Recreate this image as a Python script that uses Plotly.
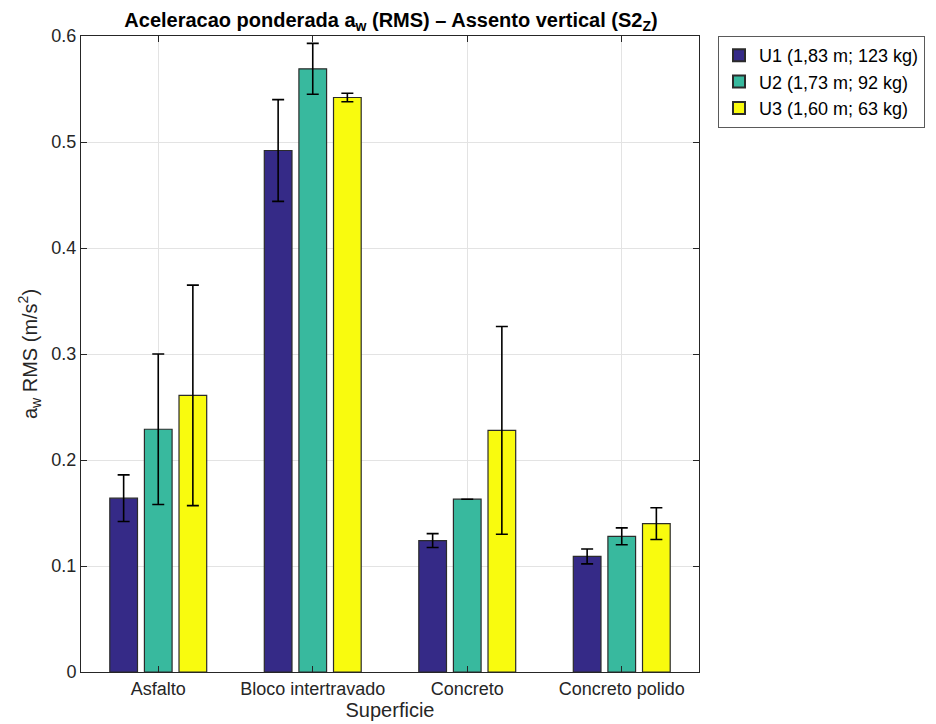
import plotly.graph_objects as go

categories = ["Asfalto", "Bloco intertravado", "Concreto", "Concreto polido"]
series_names = ["U1 (1,83 m; 123 kg)", "U2 (1,73 m; 92 kg)", "U3 (1,60 m; 63 kg)"]
u1_mean = [0.164, 0.492, 0.124, 0.109]
u1_err = [0.022, 0.048, 0.0065, 0.007]
u2_mean = [0.229, 0.569, 0.163, 0.128]
u2_err = [0.071, 0.024, 0.0, 0.008]
u3_mean = [0.261, 0.542, 0.228, 0.140]
u3_err = [0.104, 0.004, 0.098, 0.015]
colors = ["#352a87", "#38b99e", "#f9fb0e"]
y_ticks = [0, 0.1, 0.2, 0.3, 0.4, 0.5, 0.6]

FONT = "Liberation Sans, Arial, Helvetica, sans-serif"

fig = go.Figure()
for name, mean, err, col in zip(series_names, [u1_mean, u2_mean, u3_mean],
                                [u1_err, u2_err, u3_err], colors):
    fig.add_trace(go.Bar(
        x=categories, y=mean, name=name,
        marker=dict(color=col, line=dict(color="#2b2b2b", width=1.2)),
        error_y=dict(type="data", array=err, visible=True, color="#000000",
                     thickness=1.6, width=6),
    ))

L, R, T, B = 73, 245, 28, 60
fig.update_layout(
    width=936, height=724,
    margin=dict(l=L, r=R, t=T, b=B),
    paper_bgcolor="white", plot_bgcolor="white",
    barmode="group", bargap=0.328, bargroupgap=0.2,
    font=dict(family=FONT, size=18, color="#262626"),
    title=dict(
        text="<b>Aceleracao ponderada a<sub>w</sub> (RMS) – Assento vertical (S2<sub>Z</sub>)</b>",
        xref="container", yref="container",
        x=383 / 936, xanchor="center", y=1 - 12 / 724, yanchor="middle",
        font=dict(family=FONT, size=20, color="#000000"),
    ),
    legend=dict(
        x=(710 - L) / (936 - L - R), xanchor="left", y=1, yanchor="top",
        bordercolor="#5a5a5a", borderwidth=1, bgcolor="white",
        font=dict(family=FONT, size=18, color="#000000"),
        tracegroupgap=0, itemsizing="constant",
    ),
    xaxis=dict(
        title=dict(text="Superficie", font=dict(size=20, color="#262626"), standoff=2),
        showline=True, linecolor="#262626", linewidth=1, mirror="ticks",
        ticks="inside", ticklen=6, tickcolor="#262626",
        showgrid=True, gridcolor="#e3e3e3", gridwidth=1,
        range=[-0.5, 3.5], zeroline=False,
    ),
    yaxis=dict(
        title=dict(text="a<sub>w</sub> RMS (m/s<sup>2</sup>)", font=dict(size=20, color="#262626"), standoff=8),
        range=[0, 0.6], tickvals=y_ticks, ticktext=[f"{v:g}" for v in y_ticks],
        showline=True, linecolor="#262626", linewidth=1, mirror="ticks",
        ticks="inside", ticklen=6, tickcolor="#262626",
        showgrid=True, gridcolor="#e3e3e3", gridwidth=1, zeroline=False,
    ),
)

fig.write_html("out.html")
